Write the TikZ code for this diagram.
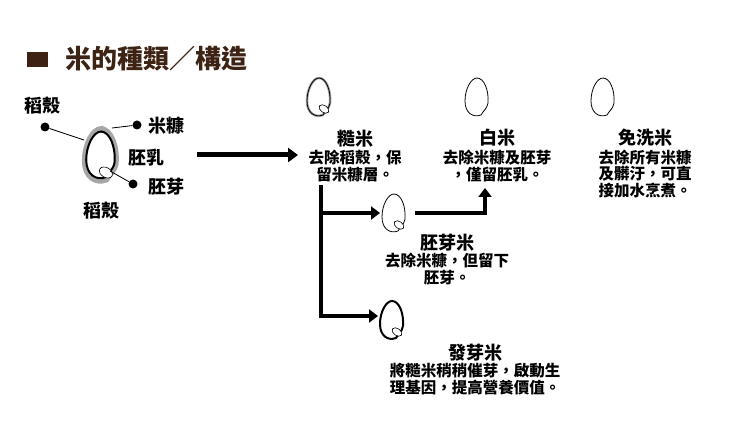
\documentclass[tikz,border=0pt]{standalone}
\usepackage{fontspec}
\newfontfamily\cjk{Noto Sans CJK TC}
\usetikzlibrary{arrows.meta}
\definecolor{brn}{HTML}{3D2314}
\def\grainpath{(0,-19) .. controls (7,-19) and (12,-7) .. (11,6) .. controls (10,12) and (6,14) .. (4,18) .. controls (-4,21) and (-12,16) .. (-12,4) .. controls (-12,-8) and (-6,-19) .. cycle}
\tikzset{
 t/.style={font=\cjk\bfseries\fontsize{15.5}{16.5}\selectfont, inner sep=0pt, align=center},
 h/.style={font=\cjk\bfseries\fontsize{18}{20}\selectfont, inner sep=0pt, align=center},
 dot/.style={circle, fill=black, inner sep=0pt, minimum size=9pt},
 big/.style={line width=5pt, -{Triangle[length=10pt,width=14pt]}},
 grainp/.pic={\draw[line width=#1] \grainpath;}
}
\begin{document}
\begin{tikzpicture}[x=1pt,y=-1pt]
\useasboundingbox (0,0) rectangle (740,433);
\fill[white] (0,0) rectangle (740,433);
% title
\fill[brn] (27,52) rectangle (48,67);
\node[anchor=west, text=brn, font=\cjk\bfseries\fontsize{26}{28}\selectfont, inner sep=0pt] (title) at (65,59) {米的種類／構造};
% big grain
\begin{scope}[shift={(101,155)}, scale=1.4]
 \draw[gray!70, line width=4.5pt] \grainpath;
 \draw[line width=2pt, scale=0.88] \grainpath;
 \draw[fill=white, line width=0.6pt, rotate around={-30:(3.5,12.5)}] (3.5,12.5) ellipse (5 and 3.5);
\end{scope}
\coordinate (gL) at (84,140);
\coordinate (gR) at (112,128);
\coordinate (gG) at (110,171);
\node[dot] (d1) at (45,127) {};
\node[dot] (d2) at (137,125) {};
\node[dot] (d3) at (133,184) {};
\draw[line width=0.8pt] (d1) -- (gL); \draw[line width=0.8pt] (d2) -- (gR); \draw[line width=0.8pt] (d3) -- (gG);
\node[h] (l1) at (42,106) {稻殼};
\node[h, anchor=west] (l2) at (148,126) {米糠};
\node[h] (l3) at (146,158) {胚乳};
\node[h, anchor=west] (l4) at (148,187) {胚芽};
\node[h] (l5) at (101,211) {稻殼};
\coordinate (a0) at (197,155); \coordinate (a1) at (298,155);
\draw[big] (a0) -- (a1);
% 糙米
\begin{scope}[shift={(319,97)}, scale=1]
 \draw[gray!70, line width=2.5pt] \grainpath;
 \draw[line width=0.8pt] \grainpath;
 \draw[fill=white, line width=0.6pt, rotate around={-35:(5,12)}] (5,12) ellipse (5.5 and 3.5);
\end{scope}
\node[h] (n1) at (355,139) {糙米};
\node[t] (n1b) at (355,166) {去除稻殼，保\\留米糠層。};
% 白米
\pic at (477,97) {grainp=0.8pt};
\node[h] (n2) at (497,138) {白米};
\node[t] (n2b) at (497,166) {去除米糠及胚芽\\，僅留胚乳。};
% 免洗米
\pic at (603,97) {grainp=0.8pt};
\node[h] (n3) at (645,138) {免洗米};
\node[t] (n3b) at (645,174) {去除所有米糠\\及髒汙，可直\\接加水烹煮。};
% branches
\coordinate (v0) at (321,185); \coordinate (v1) at (321,213); \coordinate (v2) at (321,316);
\coordinate (b1) at (380,213); \coordinate (b2) at (378,316);
\draw[line width=4pt] (v0) -- (v2);
\draw[line width=4pt, -{Triangle[length=9pt,width=13pt]}] ([xshift=-2pt]v1) -- (b1);
\draw[line width=4pt, -{Triangle[length=9pt,width=13pt]}] ([xshift=-2pt]v2) -- (b2);
% 胚芽米
\begin{scope}[shift={(394,213)}, scale=1]
 \draw[line width=0.8pt] \grainpath;
 \draw[fill=white, line width=0.6pt, rotate around={-35:(5,12)}] (5,12) ellipse (5.5 and 3.5);
\end{scope}
\coordinate (c0) at (415,213); \coordinate (c1) at (485,213); \coordinate (c2) at (485,188);
\draw[line width=4pt, -{Triangle[length=9pt,width=13pt]}] (c0) -- (c1) -- (c2);
\node[h] (n4) at (447,243) {胚芽米};
\node[t] (n4b) at (447,269) {去除米糠，但留下\\胚芽。};
% 發芽米
\begin{scope}[shift={(392,320)}, scale=1]
 \draw[line width=2pt] \grainpath;
 \draw[fill=white, line width=0.6pt, rotate around={-35:(5,12)}] (5,12) ellipse (5.5 and 3.5);
\end{scope}
\node[h] (n5) at (475,353) {發芽米};
\node[t] (n5b) at (475,379) {將糙米稍稍催芽，啟動生\\理基因，提高營養價值。};
\end{tikzpicture}
\end{document}
